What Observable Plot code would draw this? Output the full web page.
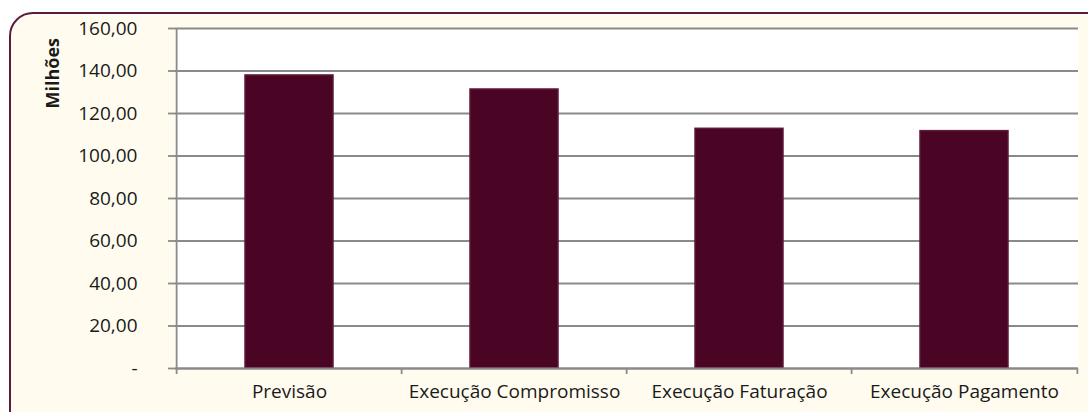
<!DOCTYPE html>
<html><head><meta charset="utf-8">
<script src="https://cdn.jsdelivr.net/npm/d3@7"></script>
<script src="https://cdn.jsdelivr.net/npm/@observablehq/plot@0.6"></script>
<style>
html,body{margin:0;padding:0;background:#fff;overflow:hidden;}
#wrap{position:relative;width:1088px;height:412px;}
#frame{position:absolute;left:9px;top:12px;width:1100px;height:420px;box-sizing:border-box;border:2px solid #5a1c3c;border-radius:24px 0 0 20px;background:#fffcef;}
#chart{position:absolute;left:0;top:0;}
</style></head>
<body><div id="wrap"><div id="frame"></div><div id="chart"></div></div>
<script>
const categories = ["Previsão","Execução Compromisso","Execução Faturação","Execução Pagamento"];
const values = [137.9, 131.3, 112.8, 111.7];
const yTicks = [0,20,40,60,80,100,120,140,160];
const yLabel = "Milhões";

const data = categories.map((c,i)=>({cat:c, v:values[i]}));
const W=1088,H=412,ml=175,mr=10,mt=28,mb=44;
const step=(W-ml-mr)/categories.length;
const pad=0.61;
const fmt = d => d===0 ? "-" : d3.format(",.2f")(d).replace(/,/g,"X").replace(".",",").replace(/X/g,".");
const font = "'Open Sans', sans-serif";

const plot = Plot.plot({
  width:W,height:H,marginLeft:ml,marginRight:mr,marginTop:mt,marginBottom:mb,
  style:{background:"transparent",fontFamily:font,fontSize:"16px",color:"#1a1a1a",overflow:"visible"},
  x:{type:"band",domain:categories,padding:pad,paddingOuter:pad/2},
  y:{domain:[0,160]},
  marks:[
    Plot.frame({fill:"white",stroke:null}),
    Plot.gridY(yTicks,{stroke:"#8a8a8a",strokeOpacity:1,strokeWidth:1.8}),
    Plot.barY(data,{x:"cat",y:"v",fill:"#4a0524",stroke:"#5e1a38",strokeWidth:1.5}),
    Plot.ruleY(data,{x:"cat",y:"v",stroke:"#7f3d5c",strokeWidth:3,insetLeft:3,insetRight:3,dy:2.5}),
    Plot.ruleY([0],{stroke:"#8a8a8a",strokeWidth:1.8}),
    Plot.ruleX(categories,{x:d=>d,dx:-step/2,stroke:"#8a8a8a",strokeWidth:1.8,insetTop:H-mt-mb,insetBottom:-6}),
    Plot.ruleX([categories[categories.length-1]],{x:d=>d,dx:step/2,stroke:"#8a8a8a",strokeWidth:1.8,insetTop:H-mt-mb,insetBottom:-6}),
    Plot.ruleX([categories[0]],{x:d=>d,dx:-step/2,stroke:"#8a8a8a",strokeWidth:1.8}),
    Plot.axisY({ticks:yTicks,tickFormat:fmt,tickSize:7,tickPadding:31,fontSize:19,stroke:"#8a8a8a",strokeWidth:1.8,label:null}),
    Plot.axisX({tickSize:0,tickPadding:16,fontSize:19,label:null}),
    Plot.text([yLabel],{frameAnchor:"top-left",dx:-129,dy:80,rotate:-90,fontWeight:"bold",fontSize:18,fill:"#1a1a1a"})
  ]
});
document.getElementById("chart").appendChild(plot);
</script></body></html>
